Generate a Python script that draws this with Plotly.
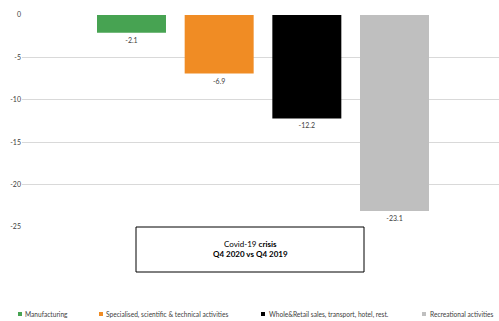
import plotly.graph_objects as go

categories = ["Manufacturing", "Specialised, scientific & technical activities",
              "Whole&Retail sales, transport, hotel, rest.", "Recreational activities"]
values = [-2.1, -6.9, -12.2, -23.1]
colors = ["#47a352", "#f08c24", "#000000", "#bfbfbf"]
y_ticks = [0, -5, -10, -15, -20, -25]

W, H = 499, 321
L, R, T, B = 22, 0, 15, 94
pw, ph = W - L - R, H - T - B

def px_x(p):
    return (p - L) / pw

def px_y(p):
    return (H - B - p) / ph

fig = go.Figure()
for c, v, col in zip(categories, values, colors):
    fig.add_trace(go.Bar(
        x=[c], y=[v], name=c, marker=dict(color=col, line=dict(width=0)), width=0.787,
        text=[f"{v:.1f}"], textposition="outside", cliponaxis=False,
        textfont=dict(size=7, color="#404040", family="Lato"),
        showlegend=False,
    ))

fig.update_layout(
    width=W, height=H, margin=dict(l=L, r=R, t=T, b=B, autoexpand=False),
    paper_bgcolor="white", plot_bgcolor="white",
    barmode="relative", showlegend=False,
    font=dict(family="Lato", color="#404040"),
    xaxis=dict(type="category", categoryorder="array", categoryarray=categories,
               range=[-1.249, 4.192], showticklabels=False, showgrid=False,
               zeroline=False, showline=False, ticks=""),
    yaxis=dict(range=[-25, 0], tickvals=y_ticks, ticktext=[str(t) for t in y_ticks],
               showgrid=True, gridcolor="#d9d9d9", gridwidth=1, zeroline=False,
               showline=False, ticks="", tickfont=dict(size=7, color="#404040", family="Lato")),
)

# legend keys and labels
legend_sq_px = [18, 99, 261, 422]
legend_text_px = [23, 104, 267, 428]
for c, col, sx, tx in zip(categories, colors, legend_sq_px, legend_text_px):
    fig.add_shape(type="rect", xref="paper", yref="paper",
                  x0=px_x(sx), x1=px_x(sx + 4), y0=px_y(312), y1=px_y(316),
                  line=dict(width=0), fillcolor=col, layer="above")
    fig.add_annotation(xref="paper", yref="paper", x=px_x(tx), y=px_y(314),
                       text=c, showarrow=False, xanchor="left", yanchor="middle",
                       font=dict(size=6.6, family="Lato", color="#404040"))

fig.add_shape(type="rect", xref="paper", yref="paper",
              x0=px_x(136), x1=px_x(364), y0=px_y(227), y1=px_y(272),
              line=dict(color="black", width=1), fillcolor="white", layer="above")
fig.add_annotation(xref="paper", yref="paper", x=px_x(250), y=px_y(249),
                   text="Covid-19 <b>crisis</b><br><b>Q4 2020 vs Q4 2019</b>",
                   showarrow=False, font=dict(size=8, family="Lato", color="black"),
                   xanchor="center", yanchor="middle", align="center")

fig.write_html("out.html")
